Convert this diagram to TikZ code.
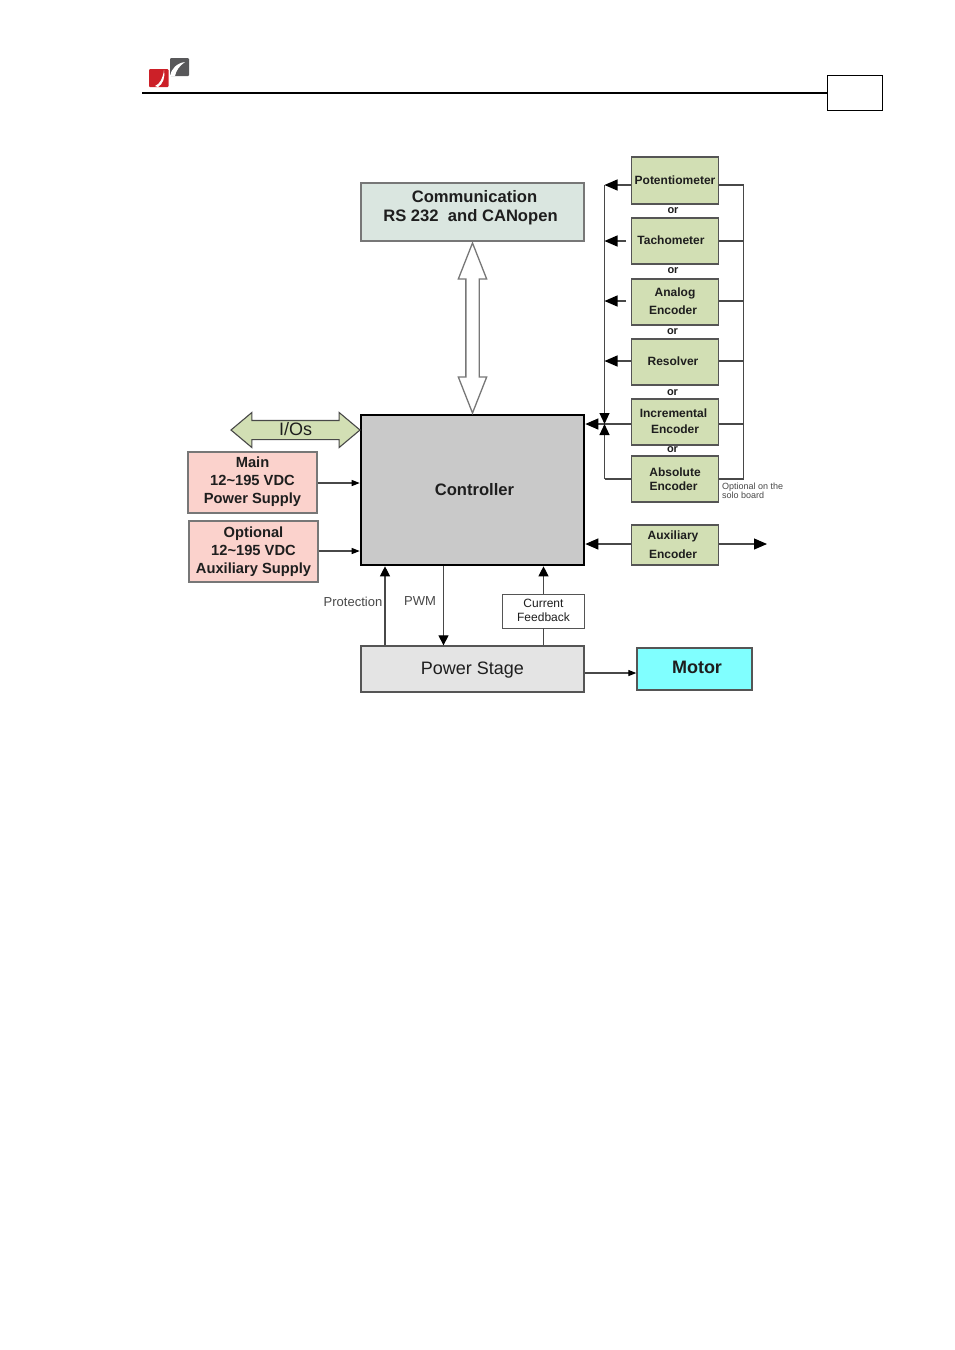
\documentclass[tikz,border=0pt]{standalone}
\usepackage{fontspec}
\setmainfont{Liberation Sans}
\usetikzlibrary{arrows.meta,shapes.arrows,calc}
\definecolor{edgegray}{HTML}{555555}
\definecolor{softedge}{HTML}{777777}
\definecolor{linegray}{HTML}{484848}
\definecolor{txt}{HTML}{1E1E1E}
\definecolor{greenbox}{HTML}{D2DFB4}
\definecolor{pinkbox}{HTML}{FBD2CC}
\definecolor{commbox}{HTML}{DAE6E0}
\definecolor{ctrlbox}{HTML}{C9C9C9}
\definecolor{powerbox}{HTML}{E4E4E4}
\definecolor{motorbox}{HTML}{80FFFF}
\definecolor{logored}{HTML}{CC2028}
\definecolor{logogray}{HTML}{58585A}
\tikzset{
  x=1pt,y=-1pt,
  basebox/.style={draw=edgegray,line width=1.3pt,inner sep=0pt,align=center,text=txt},
  encbox/.style={basebox,fill=greenbox,minimum width=86.5pt,font=\bfseries\fontsize{12}{17.5}\selectfont},
  pinkb/.style={basebox,draw=softedge,fill=pinkbox,minimum width=129pt,minimum height=61pt,font=\bfseries\fontsize{14.7}{18}\selectfont},
  conn/.style={draw=linegray,line width=1.1pt},
  bigtip/.style={conn,-{Triangle[length=13pt,width=11pt,color=black]}},
  midtip/.style={conn,-{Triangle[length=10pt,width=10pt,color=black]}},
  smalltip/.style={conn,-{Triangle[length=8pt,width=6pt,color=black]}},
  orlabel/.style={inner sep=0pt,text=txt,font=\bfseries\fontsize{11}{11}\selectfont},
  plainlabel/.style={inner sep=0pt,text=linegray,font=\fontsize{13}{13}\selectfont},
}
\begin{document}
\begin{tikzpicture}
\useasboundingbox (0,0) rectangle (955,1350);
\fill[white] (0,0) rectangle (955,1350);

% header
\fill[logored,rounded corners=1pt] (149,69) rectangle (168.5,87);
\fill[white] (155,86) .. controls (160,84) and (163,78) .. (164,70) .. controls (165.5,77) and (163,84) .. (158,87) -- cycle;
\fill[logogray,rounded corners=1pt] (170,58) rectangle (189,76);
\fill[white] (170,76) .. controls (171,69) and (177,63) .. (185,62) .. controls (179,66) and (176,71) .. (175,76) -- cycle;
\node[draw=black,line width=1pt,minimum width=55.5pt,minimum height=35pt,inner sep=0pt] (pagebox) at (855,92.5) {};
\coordinate (headstart) at (142,93);
\draw[black,line width=1.6pt] (headstart) -- (headstart -| pagebox.west);

% main blocks
\node[basebox,draw=softedge,fill=commbox,minimum width=223pt,minimum height=58pt,text depth=11.5pt,font=\bfseries\fontsize{16.6}{19}\selectfont] (comm) at (472.5,212) {\hspace*{4pt}Communication\\RS 232\ \ and CANopen\hspace*{4pt}};
\node[basebox,draw=black,line width=2.6pt,fill=ctrlbox,minimum width=223pt,minimum height=150pt,font=\bfseries\fontsize{16.6}{16.6}\selectfont] (ctrl) at (472.5,490) {\hspace*{4pt}Controller};
\node[basebox,fill=powerbox,minimum width=223pt,minimum height=46pt,text depth=2pt,font=\fontsize{18}{18}\selectfont] (power) at (472.5,669) {Power Stage};
\node[basebox,fill=motorbox,minimum width=115pt,minimum height=42pt,text depth=4pt,font=\bfseries\fontsize{18}{18}\selectfont] (motor) at (694.5,669) {\hspace*{5pt}Motor};
\node[basebox,line width=0.9pt,fill=white,minimum width=82pt,minimum height=34pt,text depth=2pt,font=\fontsize{12}{14}\selectfont] (cf) at (543.5,611) {Current\\Feedback};
\node[pinkb,text depth=5pt] (mainps) at (252.5,482.5) {Main\\12\textasciitilde195 VDC\\Power Supply};
\node[pinkb] (auxps) at (253.5,551.5) {Optional\\12\textasciitilde195 VDC\\Auxiliary Supply};

% encoder stack
\node[encbox,minimum height=47pt] (pot) at (675,180.5) {Potentiometer};
\node[encbox,minimum height=46pt,text depth=2pt] (tach) at (675,241) {Tachometer\hspace*{8pt}};
\node[encbox,minimum height=46pt,text depth=2pt] (analog) at (675,302) {Analog\\Encoder\hspace*{4pt}};
\node[encbox,minimum height=46pt,text depth=2pt] (resolver) at (675,362) {Resolver\hspace*{4pt}};
\node[encbox,minimum height=46pt,text depth=2pt,font=\bfseries\fontsize{12}{16}\selectfont] (incr) at (675,422) {Incremental\hspace*{3pt}\\Encoder};
\node[encbox,minimum height=46pt,font=\bfseries\fontsize{12}{14.5}\selectfont] (abs) at (675,479) {Absolute\\Encoder\hspace*{3pt}};
\node[encbox,minimum height=40pt,font=\bfseries\fontsize{12}{19}\selectfont] (auxenc) at (675,545) {Auxiliary\hspace*{4pt}\\Encoder\hspace*{4pt}};
\node[orlabel] (or1) at (673,211) {or};
\node[orlabel] (or2) at (673,271) {or};
\node[orlabel] (or3) at (672.5,332) {or};
\node[orlabel] (or4) at (672.5,393) {or};
\node[orlabel] (or5) at (672.5,450) {or};
\node[inner sep=0pt,align=left,anchor=west,text=linegray,font=\fontsize{9}{9}\selectfont] (solo) at (722,491) {Optional on the\\solo board};

% double arrows
\node[draw=linegray,line width=1.1pt,fill=greenbox,double arrow,double arrow head extend=8pt,double arrow tip angle=80,minimum height=129pt,minimum width=34pt,inner ysep=4pt,inner xsep=0pt,text height=10pt,text depth=0pt,text=txt,font=\fontsize{18}{18}\selectfont] (ios) at (295.5,430) {I/Os};
\node[draw=softedge,line width=1.3pt,fill=white,double arrow,rotate=90,double arrow head extend=7.5pt,double arrow tip angle=43,minimum height=170pt,minimum width=27pt,inner sep=6pt,text width=0pt] (commlink) at (472.5,328) {};

% labels
\node[plainlabel] (prot) at (353,601.5) {Protection};
\node[plainlabel] (pwm) at (420,601.5) {PWM};

% feedback buses
\coordinate (busTop) at (604.5,185);
\coordinate (busRightTop) at (743.5,185);
\coordinate (busDown) at (604.5,424);
\coordinate (busUp) at (604.5,424);
\coordinate (busAbs) at (604.5,479);
\coordinate (busRightAbs) at (743.5,479);
\coordinate (incrRight) at (743.5,424);
\coordinate (auxOut) at (767,544);

\draw[conn] (busTop) -- ($(busDown)+(0,-10)$);
\draw[conn] (busRightTop) -- (busRightAbs);
\draw[bigtip] (pot.west |- busTop) -- (busTop);
\draw[conn] (pot.east |- busTop) -- (busRightTop);
\draw[bigtip] ($(tach.west)+(-5,0)$) -- (tach.west -| busTop);
\draw[conn] (tach.east) -- (tach.east -| busRightTop);
\draw[bigtip] ($(analog.west)+(-5,-1)$) -- ($(analog.west -| busTop)+(0,-1)$);
\draw[conn] ($(analog.east)+(0,-1)$) -- ($(analog.east -| busRightTop)+(0,-1)$);
\draw[bigtip] ($(resolver.west)+(0,-1)$) -- ($(resolver.west -| busTop)+(0,-1)$);
\draw[conn] ($(resolver.east)+(0,-1)$) -- ($(resolver.east -| busRightTop)+(0,-1)$);
\draw[conn] (incr.east |- incrRight) -- (incrRight);
\draw[bigtip] (incr.west |- busDown) -- (ctrl.east |- busDown);
\draw[conn] (abs.east) -- (busRightAbs);
\draw[conn] (abs.west) -- (busAbs);
\draw[conn,-{Triangle[length=11pt,width=10pt,color=black]}] ($(busDown)+(0,-20)$) -- (busDown);
\draw[conn,-{Triangle[length=11pt,width=10pt,color=black]}] (busAbs) -- (busUp);
\draw[bigtip] (auxenc.west |- auxOut) -- (ctrl.east |- auxOut);
\draw[bigtip] (auxenc.east |- auxOut) -- (auxOut);

% power connections
\draw[smalltip] (mainps.east |- 0,483) -- (ctrl.west |- 0,483);
\draw[smalltip] (auxps.east |- 0,551) -- (ctrl.west |- 0,551);
\draw[midtip] (power.north -| 385,0) -- (ctrl.south -| 385,0);
\draw[midtip] (ctrl.south -| 443.5,0) -- (power.north -| 443.5,0);
\draw[conn] (power.north -| cf.south) -- (cf.south);
\draw[midtip] (cf.north) -- (ctrl.south -| cf.north);
\draw[smalltip] (power.east |- 0,673) -- (motor.west |- 0,673);
\end{tikzpicture}
\end{document}
